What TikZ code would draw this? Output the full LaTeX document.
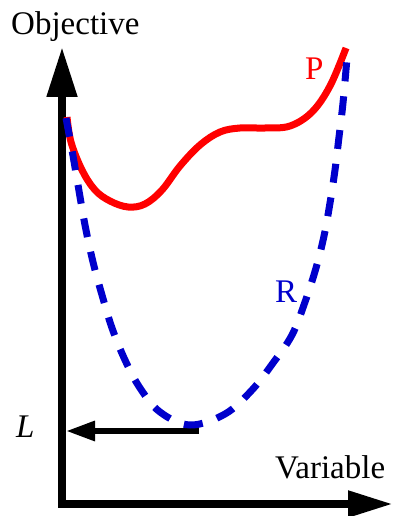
\documentclass[tikz,border=0pt]{standalone}
\usepackage{fontspec}
\setmainfont{Liberation Serif}
\usepackage{xcolor}
\usetikzlibrary{arrows.meta,positioning}
\definecolor{curveblue}{RGB}{0,0,204}

\begin{document}
\begin{tikzpicture}[
                x=1pt, y=-1pt,
                font=\fontsize{33}{36}\selectfont,
                axis/.style={line width=8pt, line join=miter, {Triangle[length=50pt, width=29pt]}-{Triangle[length=45pt, width=25pt]}},
                curveP/.style={line width=7pt, red},
                curveR/.style={line width=7pt, curveblue, dash pattern=on 19pt off 15pt},
                level/.style={line width=6pt, -{Triangle[length=29pt, width=19pt]}},
                lbl/.style={inner sep=0pt, anchor=base west}
            ]
            \useasboundingbox (0,0) rectangle (394,516);
            \coordinate (ytip) at (62,47);
            \coordinate (orig) at (62,504);
            \coordinate (xtip) at (393,504);
            \coordinate (lstart) at (199,431);
            \coordinate (lend) at (66,431);
            \node[lbl] (obj) at (11,35) {Objective};
            \node[lbl] (var) at (275,478) {Variable};
            \node[lbl, red] (lblP) at (305,80) {P};
            \node[lbl, curveblue] (lblR) at (275,302) {R};
            \node[lbl] (lblL) at (16,437) {\itshape L};
            \draw[axis] (ytip) -- (orig) -- (xtip);
            \draw[level] (lstart) -- (lend);
            \draw[curveP] plot[smooth, tension=0.6] coordinates {(67,117) (71,142) (82,170) (95,190) (110,201) (128,207) (145,204) (162,190) (180,166) (200,145) (220,132) (240,128) (265,128) (290,126) (312,112) (330,86) (346,48)};
            \draw[curveR] plot[smooth, tension=0.6] coordinates {(66,118) (72,150) (78,185) (85,225) (93,262) (102,295) (112,328) (125,360) (140,388) (160,412) (190,425) (225,414) (252,390) (273,363) (292,335) (305,302) (316,268) (324,236) (330,203) (335,170) (339,137) (343,103) (347,58)};
        \end{tikzpicture}
\end{document}
